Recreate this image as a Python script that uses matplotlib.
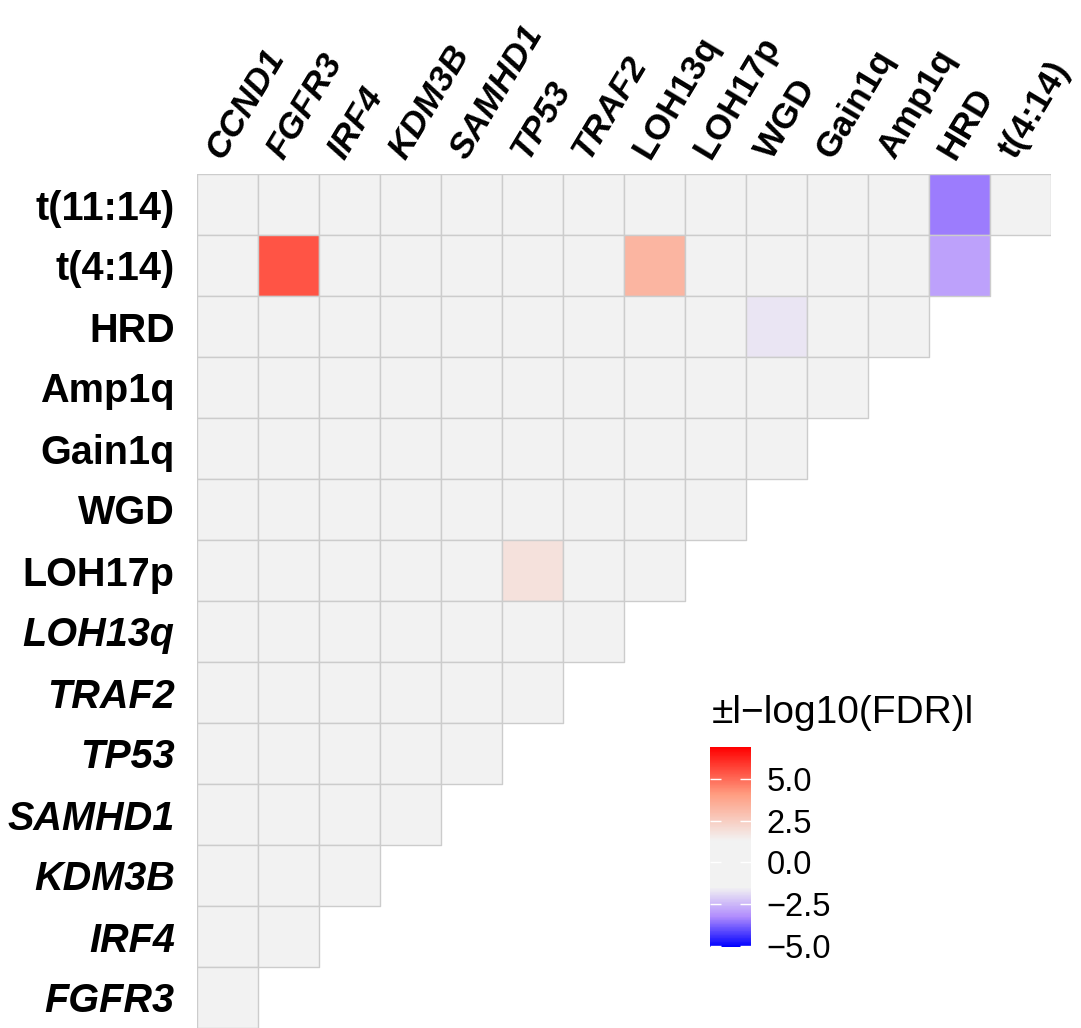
import numpy as np
import matplotlib
matplotlib.use('Agg')
import matplotlib.pyplot as plt
from matplotlib.colors import LinearSegmentedColormap, Normalize
from matplotlib.patches import Rectangle
from matplotlib.collections import PatchCollection
from matplotlib.transforms import ScaledTranslation

plt.rcParams['font.family'] = ['Liberation Sans', 'DejaVu Sans']

# labels
col_labels = ['CCND1', 'FGFR3', 'IRF4', 'KDM3B', 'SAMHD1', 'TP53', 'TRAF2',
              'LOH13q', 'LOH17p', 'WGD', 'Gain1q', 'Amp1q', 'HRD', 't(4:14)']
row_labels = ['t(11:14)', 't(4:14)', 'HRD', 'Amp1q', 'Gain1q', 'WGD', 'LOH17p',
              'LOH13q', 'TRAF2', 'TP53', 'SAMHD1', 'KDM3B', 'IRF4', 'FGFR3']
col_italic = ['CCND1', 'FGFR3', 'IRF4', 'KDM3B', 'SAMHD1', 'TP53', 'TRAF2']
row_italic = ['LOH13q', 'TRAF2', 'TP53', 'SAMHD1', 'KDM3B', 'IRF4', 'FGFR3']

# signed -log10(FDR), only the non-zero pairs (row, col)
sig_rows = ['t(11:14)', 't(4:14)', 't(4:14)', 't(4:14)', 'HRD', 'LOH17p']
sig_cols = ['HRD', 'FGFR3', 'LOH13q', 'HRD', 'WGD', 'TP53']
sig_vals = [-3.45, 5.4, 3.3, -2.9, -1.7, 1.85]

n = len(row_labels)
mat = np.zeros((n, n))
for r, c, v in zip(sig_rows, sig_cols, sig_vals):
    mat[row_labels.index(r), col_labels.index(c)] = v

vmin, vmax = -5.05, 6.9
def pos(v):
    return (v - vmin) / (vmax - vmin)
cmap = LinearSegmentedColormap.from_list('fdr', [
    (pos(vmin), '#0000FF'),
    (pos(-3.25), '#B08CFD'),
    (pos(-1.5), '#F2F2F2'),
    (pos(1.3), '#F2F2F2'),
    (pos(4.1), '#FF9C80'),
    (pos(vmax), '#FF0000')])

# lower-triangle cells only: row i keeps columns 0 .. n-1-i
cells, vals = [], []
for i in range(n):
    for j in range(n - i):
        cells.append(Rectangle((j, i), 1, 1))
        vals.append(mat[i, j])

fig = plt.figure(figsize=(10.81, 10.28), dpi=100)
ax = fig.add_axes([197 / 1081, 1 - 1028 / 1028, 854 / 1081, 854 / 1028])
pc = PatchCollection(cells, cmap=cmap, norm=Normalize(vmin, vmax),
                     edgecolor='#CCCCCC', linewidth=1.0)
pc.set_array(np.array(vals))
ax.add_collection(pc)
ax.set_xlim(0, n)
ax.set_ylim(n, 0)
for s in ax.spines.values():
    s.set_visible(False)

ax.xaxis.tick_top()
ax.set_xticks(np.arange(n) + 0.5)
ax.set_xticklabels(col_labels, fontsize=25.5, fontweight='bold', rotation=59,
                   rotation_mode='anchor', ha='left', va='center')
ax.set_yticks(np.arange(n) + 0.5)
ax.set_yticklabels(row_labels, fontsize=28.5, fontweight='bold')
ax.tick_params(length=0, pad=16)
ax.tick_params(axis='x', pad=13)
shift = ScaledTranslation(-13 / 100, 0, fig.dpi_scale_trans)
for t in ax.get_xticklabels():
    t.set_transform(t.get_transform() + shift)
    if t.get_text() in col_italic:
        t.set_fontstyle('italic')
for t in ax.get_yticklabels():
    if t.get_text() in row_italic:
        t.set_fontstyle('italic')

# colour bar
cax = fig.add_axes([710 / 1081, 1 - 947 / 1028, 41 / 1081, 200 / 1028])
cb = fig.colorbar(pc, cax=cax, ticks=[5, 2.5, 0, -2.5, -5])
cb.outline.set_visible(False)
cb.ax.set_yticklabels(['5.0', '2.5', '0.0', '\u22122.5', '\u22125.0'], fontsize=23.5)
cb.ax.tick_params(direction='in', color='white', length=8, width=1, left=True, right=True, pad=11)
fig.text(712 / 1081, 1 - 723 / 1028, '\u00b1l\u2212log10(FDR)l', fontsize=28,
         ha='left', va='baseline')

fig.savefig('out.png', dpi=100)
